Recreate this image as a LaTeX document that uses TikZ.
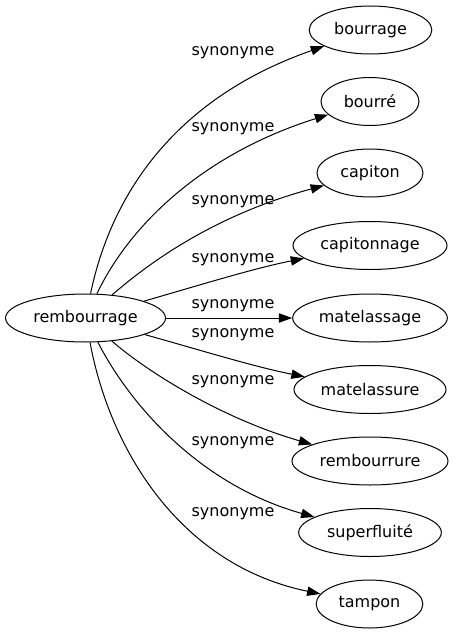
\documentclass[tikz,border=0pt]{standalone}
\usepackage{fontspec}
\setmainfont{DejaVu Sans}
\usetikzlibrary{shapes.geometric,arrows.meta}
\begin{document}
\begin{tikzpicture}[x=0.75pt,y=0.75pt,yscale=-1,xscale=1,
	mot/.style={draw, ellipse, line width=0.75pt, minimum height=36pt, inner sep=0pt, font=\fontsize{12}{14}\selectfont},
	syn/.style={inner sep=0.75pt, font=\fontsize{12}{14}\selectfont},
	lien/.style={-{Triangle[length=10pt,width=7pt]}, line width=0.75pt}]
	\useasboundingbox (0,0) rectangle (454,635);

	%Shape: Ellipse
	\node [mot, minimum width=120pt] (rembourrage) at (85.5,318) {rembourrage};
	%Shape: Ellipse
	\node [mot, minimum width=92pt] (bourrage) at (370.5,30) {bourrage};
	%Shape: Ellipse
	\node [mot, minimum width=73.5pt] (bourre) at (370,101.5) {bourré};
	%Shape: Ellipse
	\node [mot, minimum width=79.5pt] (capiton) at (370,173) {capiton};
	%Shape: Ellipse
	\node [mot, minimum width=115.5pt] (capitonnage) at (370,245.5) {capitonnage};
	%Shape: Ellipse
	\node [mot, minimum width=116pt] (matelassage) at (370,318) {matelassage};
	%Shape: Ellipse
	\node [mot, minimum width=114pt] (matelassure) at (370,389.5) {matelassure};
	%Shape: Ellipse
	\node [mot, minimum width=117pt] (rembourrure) at (370,461) {rembourrure};
	%Shape: Ellipse
	\node [mot, minimum width=107pt] (superfluite) at (370,532.5) {superfluité};
	%Shape: Ellipse
	\node [mot, minimum width=80pt] (tampon) at (369.5,604) {tampon};

	%Curve Lines
	\draw [lien] (rembourrage) .. controls (110,200) and (170,100) .. (bourrage);
	\draw [lien] (rembourrage) .. controls (128,228) and (200,155) .. (bourre);
	\draw [lien] (rembourrage) .. controls (150,262) and (215,215) .. (capiton);
	\draw [lien] (rembourrage) .. controls (200,285) and (255,268) .. (capitonnage);
	\draw [lien] (rembourrage) -- (matelassage);
	\draw [lien] (rembourrage) .. controls (200,350) and (255,367) .. (matelassure);
	\draw [lien] (rembourrage) .. controls (145,370) and (220,418) .. (rembourrure);
	\draw [lien] (rembourrage) .. controls (130,405) and (200,485) .. (superfluite);
	\draw [lien] (rembourrage) .. controls (110,450) and (180,565) .. (tampon);

	% Text Node
	\node [syn] (s1) at (233,53) {synonyme};
	% Text Node
	\node [syn] (s2) at (233,129) {synonyme};
	% Text Node
	\node [syn] (s3) at (233,202) {synonyme};
	% Text Node
	\node [syn] (s4) at (233,260) {synonyme};
	% Text Node
	\node [syn] (s5) at (233,306) {synonyme};
	% Text Node
	\node [syn] (s6) at (233,335) {synonyme};
	% Text Node
	\node [syn] (s7) at (233,382) {synonyme};
	% Text Node
	\node [syn] (s8) at (233,443) {synonyme};
	% Text Node
	\node [syn] (s9) at (233,514) {synonyme};

\end{tikzpicture}
\end{document}
